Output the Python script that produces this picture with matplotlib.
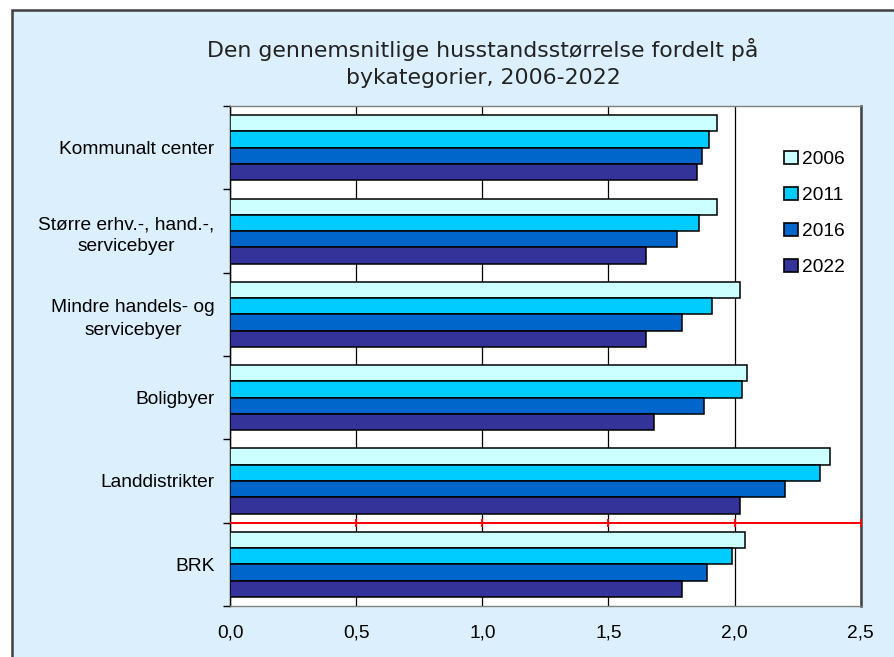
import matplotlib
matplotlib.use("Agg")
import matplotlib.pyplot as plt
from matplotlib.patches import Rectangle, Patch
import numpy as np

categories = ["Kommunalt center", "Større erhv.-, hand.-,\nservicebyer",
              "Mindre handels- og\nservicebyer", "Boligbyer", "Landdistrikter", "BRK"]
years = ["2006", "2011", "2016", "2022"]
v2006 = [1.93, 1.93, 2.02, 2.05, 2.38, 2.04]
v2011 = [1.90, 1.86, 1.91, 2.03, 2.34, 1.99]
v2016 = [1.87, 1.77, 1.79, 1.88, 2.20, 1.89]
v2022 = [1.85, 1.65, 1.65, 1.68, 2.02, 1.79]
xticks = [0.0, 0.5, 1.0, 1.5, 2.0, 2.5]
xticklabels = ["0,0", "0,5", "1,0", "1,5", "2,0", "2,5"]
title = "Den gennemsnitlige husstandsstørrelse fordelt på\nbykategorier, 2006-2022"

colors = ["#CCFFFF", "#00CCFF", "#0066CC", "#333399"]
series = [v2006, v2011, v2016, v2022]

W, H = 894, 657
fig = plt.figure(figsize=(W / 100, H / 100), dpi=100)
fig.patch.set_facecolor("white")

bg = Rectangle((12 / W, -0.05), 1.1, 1 - 10 / H + 0.05, transform=fig.transFigure,
               facecolor="#DBEFFD", edgecolor="#404040", linewidth=1.8, zorder=-10)
fig.patches.append(bg)

fig.text(483 / W, 1 - 63 / H, title, ha="center", va="center", fontsize=15.8,
         family="DejaVu Sans", color="#222222", linespacing=1.42)

ax = fig.add_axes([230 / W, 1 - 606 / H, (860.7 - 230) / W, 500 / H])
ax.set_zorder(5)
ax.set_facecolor("white")

n = len(categories)
y = np.arange(n)
h = 0.195
for j, (vals, c) in enumerate(zip(series, colors)):
    ax.barh(y + (j - 1.5) * h, vals, height=h, color=c, edgecolor="black",
            linewidth=1.1, label=years[j], zorder=3)

ax.set_xlim(0, 2.5)
ax.set_ylim(n - 0.5, -0.5)
ax.set_xticks(xticks)
ax.set_xticklabels(xticklabels, fontsize=13.8, family="Liberation Sans")
ax.tick_params(axis="x", length=0, pad=13)
ax.set_yticks(y)
ax.set_yticklabels(categories, fontsize=13.8, family="Liberation Sans",
                   multialignment="center", linespacing=1.4)
ax.tick_params(axis="y", which="major", length=0, pad=11)
ax.set_yticks(np.arange(n + 1) - 0.5, minor=True)
ax.tick_params(axis="y", which="minor", length=5, width=1, color="black", direction="out")
ax.xaxis.grid(True, color="black", linewidth=0.9, zorder=1)
ax.set_axisbelow(True)

for s in ["top", "bottom"]:
    ax.spines[s].set_color("#808080")
    ax.spines[s].set_linewidth(1.0)
ax.spines["left"].set_color("black")
ax.spines["left"].set_linewidth(1.0)
ax.spines["right"].set_color("#404040")
ax.spines["right"].set_linewidth(1.8)

# red reference line between Landdistrikter and BRK
yref = n - 1.5
ax.axhline(yref, color="red", linewidth=1.4, zorder=4)
ax.plot(xticks[1:], [yref] * (len(xticks) - 1), linestyle="none", marker="|",
        markersize=6, color="red", markeredgewidth=1.3, zorder=4, clip_on=False)

handles = [Patch(facecolor=c, edgecolor="black", linewidth=1.2) for c in colors]
leg = ax.legend(handles, years, loc="upper left", bbox_to_anchor=(0.866, 0.925),
                frameon=False, prop={"family": "Liberation Sans", "size": 13.8},
                handlelength=0.72, handleheight=0.65, handletextpad=0.25, labelspacing=0.98,
                borderaxespad=0)

fig.savefig("out.png", dpi=100)
